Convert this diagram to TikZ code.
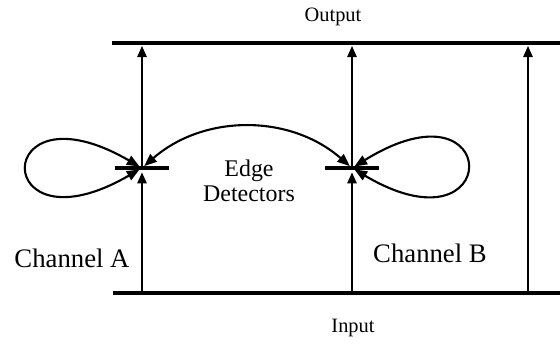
\documentclass[tikz,border=0pt]{standalone}
\usepackage{fontspec}
\setmainfont{Liberation Serif}
\usepackage{tikz}
\usetikzlibrary{arrows.meta,positioning,calc}
\tikzset{
    bus/.style={line width=2.8pt},
    arr/.style={-{Triangle[length=8pt,width=6.5pt]}, line width=1.7pt},
    arrb/.style={{Triangle[length=9pt,width=7pt]}-{Triangle[length=9pt,width=7pt]}, line width=1.5pt},
    junc/.style={rectangle, fill=black, inner sep=0pt,
                 minimum width=1.33cm, minimum height=2.8pt},
    lbl/.style={font=\fontsize{19}{21}\selectfont, align=center},
    elbl/.style={font=\fontsize{17}{18}\selectfont, align=center},
    blbl/.style={font=\fontsize{14.5}{16}\selectfont},
}
\begin{document}
\begin{tikzpicture}[x=0.025cm,y=-0.025cm]
    \useasboundingbox (0,0) rectangle (560,343);

    % buses
    \coordinate (o1) at (112,43);
    \coordinate (o2) at (560,43);
    \coordinate (i1) at (113,293);
    \coordinate (i2) at (560,293);
    \draw[bus] (o1) -- (o2);
    \draw[bus] (i1) -- (i2);
    \node[blbl] (out) at (333,17)  {Output};
    \node[blbl] (in)  at (353,328) {Input};

    % edge detectors
    \node[junc] (ja) at (142,168) {};
    \node[junc] (jb) at (352,168) {};

    \draw[arr, shorten >=3pt] (ja.center |- i1) -- (ja.center);
    \draw[arr, shorten >=2pt] (ja.center) -- (ja.center |- o1);
    \draw[arr, shorten >=3pt] (jb.center |- i1) -- (jb.center);
    \draw[arr, shorten >=2pt] (jb.center) -- (jb.center |- o1);
    \coordinate (c3) at (528,293);
    \draw[arr, shorten >=2pt] (c3) -- (c3 |- o1);

    \draw[arrb, shorten <=2pt, shorten >=2pt] (ja.center) .. controls +(-152,-88) and +(-152,88) .. (ja.center);
    \draw[arrb, shorten <=2pt, shorten >=2pt] (jb.center) .. controls +(152,-94) and +(152,90) .. (jb.center);
    \draw[arrb, shorten <=2pt, shorten >=2pt] (ja.center) .. controls +(62,-54) and +(-62,-54) .. (jb.center);

    \node[elbl] (ed) at (249,181) {Edge\\Detectors};
    \node[lbl]  (ca) at (72,258)  {Channel A};
    \node[lbl]  (cb) at (430,253) {Channel B};
\end{tikzpicture}
\end{document}
